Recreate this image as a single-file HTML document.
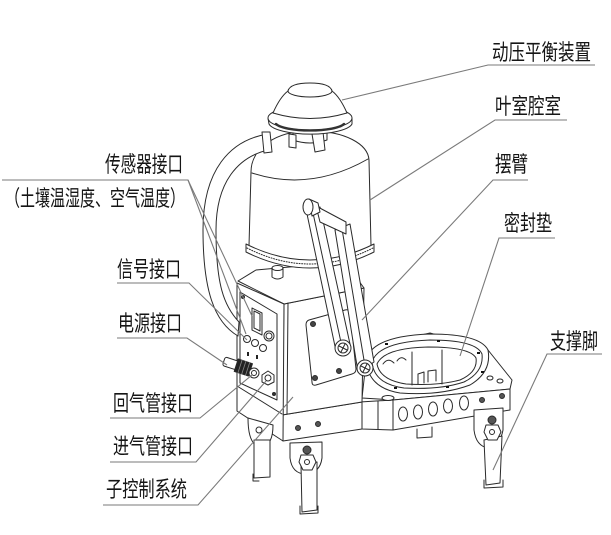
<!DOCTYPE html>
<html><head><meta charset="utf-8"><style>
html,body{margin:0;padding:0;background:#fff;}
svg{display:block;}
text{font-family:"Liberation Sans","Noto Sans CJK SC",sans-serif;font-size:22px;fill:#151515;}
</style></head><body>
<svg width="611" height="535" viewBox="0 0 611 535" xmlns="http://www.w3.org/2000/svg">
<rect width="611" height="535" fill="#fff"/>

<g fill="#fff" stroke="#2a2a2a" stroke-width="1" stroke-linejoin="round" stroke-linecap="round">
  <!-- ring plate top surface -->
  <path d="M362,398 L366,362 L378,345 L430,333 L488,350 L512,380 L510,389 L393,400 Z"/>
  <!-- connecting block + ring plate front face -->
  <path d="M360,402 L393,400 L393,430 L362,429 Z"/>
  <path d="M393,400 L510,389 L510,410 L393,430 Z"/>
  <line x1="378" y1="401" x2="378" y2="429"/>
  <!-- holes on ring plate face -->
  <ellipse cx="403" cy="414" rx="4.5" ry="7"/>
  <ellipse cx="418" cy="412" rx="4.5" ry="7"/>
  <ellipse cx="433" cy="409" rx="4.5" ry="7"/>
  <ellipse cx="448" cy="406" rx="4.5" ry="7"/>
  <ellipse cx="464" cy="403" rx="4.5" ry="7"/>
  <circle cx="482" cy="400" r="2.5" fill="#555"/>
  <circle cx="502" cy="396" r="2.5" fill="#555"/>
  <!-- tab -->
  <path d="M417,429 L417,438 L432,437 L432,427"/>
  <!-- ring / seal -->
  <path d="M366,360 Q372,336 430,334 Q480,334 488,350 Q492,372 470,385 Q440,396 400,393 Q368,388 366,360 Z"/>
  <path d="M372,362 Q378,342 430,340 Q476,340 482,354 Q484,372 464,382 Q440,390 404,388 Q374,384 372,362 Z"/>
  <path d="M377,364 Q384,348 428,347 Q470,347 476,358 Q478,372 460,380 Q438,386 406,384 Q380,380 377,364 Z"/>
  <line x1="412" y1="352" x2="412" y2="385"/>
  <line x1="442" y1="350" x2="442" y2="384"/>
  <path d="M418,384 L418,374 L424,372 L424,383 M428,382 L428,371 L436,370 L436,381" fill="none"/>
  <path d="M383,364 Q388,357 394,363 M397,361 Q401,355 406,360" fill="none"/>
  <rect x="385" y="343" width="3" height="2" fill="#111" stroke="none"/>
  <rect x="437" y="340" width="3" height="2" fill="#111" stroke="none"/>
  <rect x="477" y="352" width="3" height="2" fill="#111" stroke="none"/>
  <rect x="394" y="387" width="3" height="2" fill="#111" stroke="none"/>
  <rect x="446" y="386" width="3" height="2" fill="#111" stroke="none"/>
  <rect x="481" y="371" width="3" height="2" fill="#111" stroke="none"/>
  <ellipse cx="388" cy="398" rx="6" ry="2.5"/>
  <ellipse cx="490" cy="378" rx="3" ry="2"/>
  <ellipse cx="500" cy="381" rx="3" ry="2"/>

  <!-- slab front -->
  <path d="M282,415 L362,402 L362,429 L283,441 Z"/>
  <circle cx="298" cy="428" r="2.5" fill="#555"/>
  <circle cx="318" cy="424" r="2.5" fill="#555"/>

  <!-- box right face -->
  <path d="M284,304 L364,288 L362,402 L282,415 Z"/>
  <!-- box top -->
  <path d="M238,281 L256,270 L345,262 L364,288 L284,304 Z"/>
  <!-- box left face -->
  <path d="M237,283 L284,304 L283,441 L237,411 Z"/>
  <line x1="288" y1="303" x2="287" y2="414"/>
  <line x1="237" y1="386" x2="282" y2="414"/>
  <!-- panel -->
  <path d="M240,292 L277,314 L277,400 L240,383 Z"/>
  <circle cx="243" cy="297" r="1.5" fill="#333"/>
  <circle cx="274" cy="394" r="1.5" fill="#333"/>
  <!-- box top knob -->
  <path d="M272,268 L272,277 Q277.5,281 283,277 L283,268"/>
  <ellipse cx="277.5" cy="268" rx="5.5" ry="2.5"/>

  <!-- arm mount plate -->
  <path d="M309,320 L345,310 Q349,309 350,313 L356,369 Q356,373 352,374 L316,385 Q312,386 312,382 L306,325 Q306,321 309,320 Z"/>
  <circle cx="313" cy="324" r="2.5" fill="#444"/>
  <circle cx="315" cy="378" r="2.5" fill="#444"/>
  <circle cx="339" cy="371" r="2.5" fill="#444"/>

  <!-- cylinder -->
  <path d="M251,172 C251,148 276,131 310,131 C345,131 368,144 369,160 L371,246 Q310,276 249,246 Z"/>
  <path d="M252,173 Q310,192 368,159" fill="none"/>
  <path d="M246,244 L246,252 Q310,284 374,252 L374,244 Q310,276 246,244 Z"/>
  <path d="M247,248 Q310,280 373,248" fill="none" stroke-dasharray="1 1.6"/>

  <!-- neck -->
  <path d="M293,124 L293,140 Q310,146 327,140 L327,124 Z"/>
  <path d="M289,134 L289,147 L296,148 L296,135 Z"/>
  <path d="M312,134 L323,132 L325,150 L315,152 Z"/>
  <!-- brim -->
  <path d="M268,118 L269,124 A42,12 0 0 0 352,124 L352,118 Z"/>
  <ellipse cx="310" cy="118" rx="42" ry="12"/>
  <path d="M276,124 A35,8.5 0 0 0 344,124" fill="none" stroke-width="2.4" stroke="#333"/>
  <!-- dome -->
  <path d="M273,113 Q280,97 288,91 A22,7 0 0 1 332,91 Q340,97 347,113 Q310,124 273,113 Z"/>
  <path d="M288,91 Q290,83 310,83 Q330,83 332,91" />
  <path d="M288,91 A22,6 0 0 0 332,91" fill="none"/>

  <!-- hose -->
  <path d="M268,134 C230,140 203,170 203,230 C203,290 214,322 238,336 L239,322 C224,306 216,285 216,230 C216,182 238,157 268,150 Z"/>
  <path d="M262,132 L270,132 L272,152 L264,153 Z"/>

  <!-- arm links -->
  <path d="M335,230 L350,224 L374,362 L358,372 Z"/>
  <line x1="342" y1="229" x2="365" y2="366"/>
  <path d="M307,214 L320,207 L350,344 L336,351 Z"/>
  <line x1="313" y1="213" x2="342" y2="347"/>
  <path d="M316,206 L346,222 L346,234 L320,222 Z"/>
  <path d="M309,199 L318,203 L320,212 L312,216 Z"/>
  <ellipse cx="308" cy="207" rx="5" ry="8"/>
  <!-- screws -->
  <circle cx="343" cy="348" r="8"/>
  <circle cx="343" cy="348" r="5"/>
  <path d="M339,346 L347,350 M341,352 L345,344" fill="none"/>
  <circle cx="365" cy="368" r="8"/>
  <circle cx="365" cy="368" r="5"/>
  <path d="M361,366 L369,370 M363,372 L367,364" fill="none"/>

  <!-- panel connectors -->
  <path d="M252,308 L262,313 L262,335 L252,330 Z"/>
  <path d="M254,311 L260,314 L260,331 L254,328 Z" fill="none"/>
  <circle cx="269" cy="336" r="5"/>
  <circle cx="269" cy="336" r="3"/>
  <circle cx="247" cy="339" r="3.5"/>
  <circle cx="255" cy="343" r="3.5"/>
  <circle cx="263" cy="348" r="3.5"/>
  <g transform="rotate(18 237 366)">
    <rect x="223" y="361" width="14" height="9" rx="2"/>
    <rect x="236" y="359" width="15" height="13" fill="#222"/>
    <path d="M240,359 V372 M244,359 V372 M248,359 V372" stroke="#888" stroke-width="0.8"/>
  </g>
  <circle cx="254" cy="373" r="5"/>
  <circle cx="254" cy="373" r="2.5"/>
  <path d="M268,371 L274,375 L274,382 L268,385 L262,382 L262,375 Z"/>
  <circle cx="268" cy="378" r="3"/>
  <rect x="247" y="352" width="2" height="4" fill="#222" stroke="none"/>
  <rect x="256" y="355" width="2" height="4" fill="#222" stroke="none"/>

  <!-- left leg -->
  <path d="M248,418 Q248,447 262,447 Q273,445 273,425 Z"/>
  <path d="M254,440 L270,440 L270,477 L254,478 Z"/>
  <path d="M253,474 L253,481 L259,481" fill="none"/>
  <circle cx="259" cy="430" r="3"/>
  <!-- middle leg -->
  <path d="M290,443 L290,458 Q292,474 306,474 Q320,473 322,458 L322,442 Z"/>
  <path d="M301,465 L317,462 L317,510 L302,512 Z"/>
  <path d="M300,506 L300,514 L318,513 L318,506" fill="none"/>
  <circle cx="307" cy="450" r="4" fill="#555"/>
  <path d="M301,455 L313,455 L316,462 L312,470 L303,470 L299,462 Z"/>
  <circle cx="307" cy="462" r="2.5"/>
  <!-- right leg -->
  <path d="M474,410 L474,430 Q476,446 488,448 Q500,446 503,430 L503,408 Z"/>
  <path d="M484,440 L502,436 L500,483 L486,485 Z"/>
  <path d="M484,480 L484,488 L503,487 L503,480" fill="none"/>
  <circle cx="492" cy="420" r="4" fill="#555"/>
  <path d="M486,425 L498,425 L501,432 L497,440 L488,440 L484,432 Z"/>
  <circle cx="492" cy="432" r="2.5"/>
</g>

<!-- leader lines -->
<g stroke="#7a7a7a" stroke-width="1.1" fill="none">
  <path d="M595,65 H488 L342,100"/>
  <path d="M567,120 H495 L370,200"/>
  <path d="M528,180 H493 L362,320"/>
  <path d="M555,238 H499 L460,356"/>
  <path d="M602,354 H547 L493,470"/>
  <path d="M2,180 H188 L252,316"/>
  <path d="M188,180 L246,334"/>
  <path d="M117,283 H189 L247,340"/>
  <path d="M117,338 H187 L227,365"/>
  <path d="M110,418 H200 L252,375"/>
  <path d="M110,462 H196 L266,381"/>
  <path d="M103,505 H198 L293,397"/>
</g>

<!-- labels -->
<text x="492" y="60" textLength="99" lengthAdjust="spacingAndGlyphs">动压平衡装置</text>
<text x="495" y="114" textLength="66" lengthAdjust="spacingAndGlyphs">叶室腔室</text>
<text x="495" y="172" textLength="33" lengthAdjust="spacingAndGlyphs">摆臂</text>
<text x="504" y="231" textLength="48" lengthAdjust="spacingAndGlyphs">密封垫</text>
<text x="550" y="349" textLength="48" lengthAdjust="spacingAndGlyphs">支撑脚</text>
<text x="105" y="172" textLength="78" lengthAdjust="spacingAndGlyphs">传感器接口</text>
<text x="5" y="206" textLength="180" lengthAdjust="spacingAndGlyphs">（土壤温湿度、空气温度）</text>
<text x="117" y="277" textLength="64" lengthAdjust="spacingAndGlyphs">信号接口</text>
<text x="118" y="331" textLength="64" lengthAdjust="spacingAndGlyphs">电源接口</text>
<text x="113" y="411" textLength="80" lengthAdjust="spacingAndGlyphs">回气管接口</text>
<text x="113" y="454" textLength="80" lengthAdjust="spacingAndGlyphs">进气管接口</text>
<text x="106" y="497" textLength="81" lengthAdjust="spacingAndGlyphs">子控制系统</text>
</svg>
</body></html>
